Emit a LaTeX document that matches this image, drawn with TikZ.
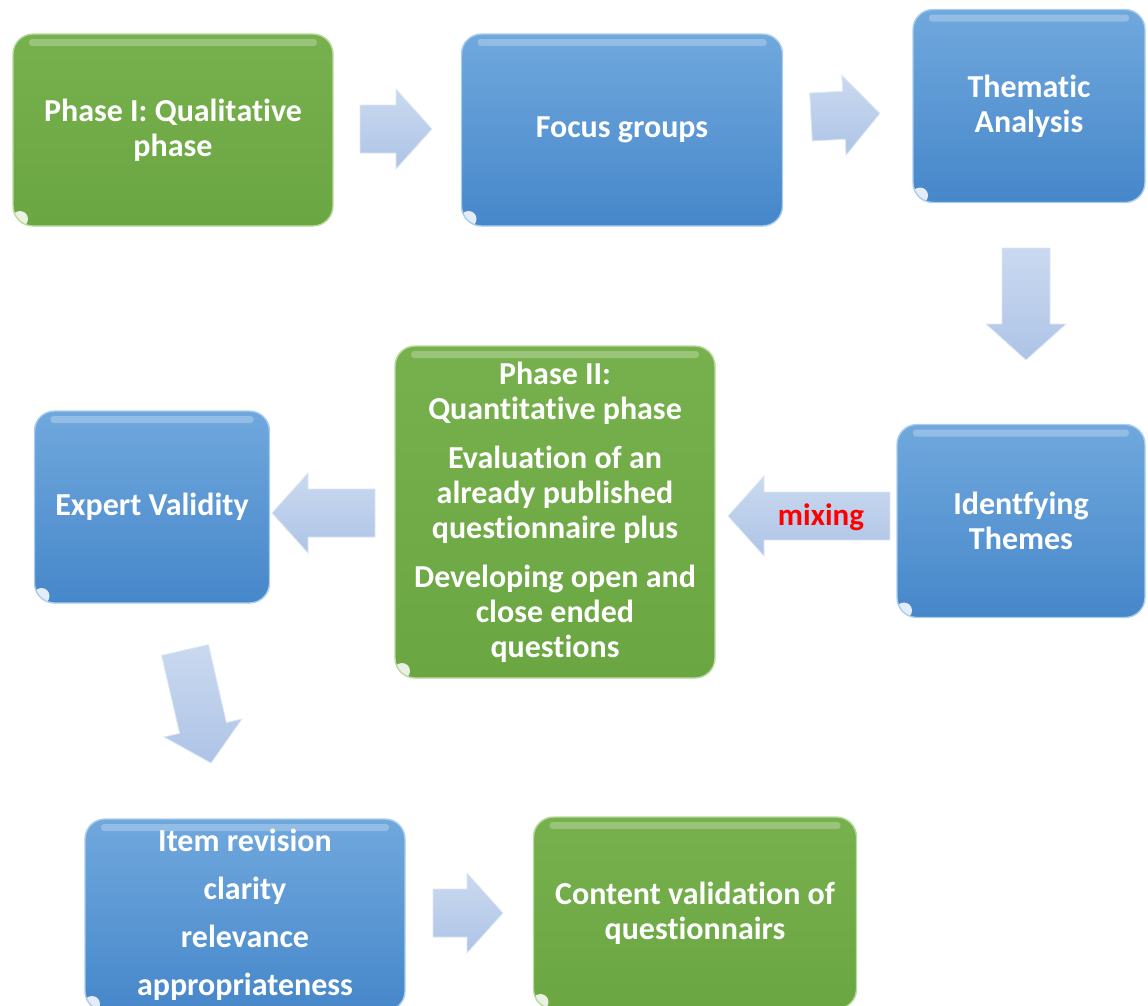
\documentclass[tikz,border=0pt]{standalone}
\usepackage{fontspec}
\setmainfont{Carlito}[Ligatures={NoCommon,NoContextual},Contextuals=NoAlternate]
\usetikzlibrary{calc}
% zero kern that keeps letter pairs such as "ti" from merging into one glyph
\newcommand{\nolig}{\kern0pt}

\definecolor{grnTop}{HTML}{77B14E}
\definecolor{grnBot}{HTML}{6AA642}
\definecolor{grnEdge}{HTML}{B9DBA1}
\definecolor{bluTop}{HTML}{70A8DD}
\definecolor{bluBot}{HTML}{4687CA}
\definecolor{bluEdge}{HTML}{AACDEC}
\definecolor{arrTop}{HTML}{CAD9EF}
\definecolor{arrBot}{HTML}{AEC4E6}
\definecolor{arrEdge}{HTML}{DDE7F6}
\definecolor{mixred}{HTML}{FF0000}

\tikzset{
  x=1pt, y=1pt,
  gloss/.style={path picture={
    \fill[white, opacity=0.25, rounded corners=3pt]
      ([xshift=16pt, yshift=-5pt]path picture bounding box.north west) rectangle
      ([xshift=-16pt, yshift=-12pt]path picture bounding box.north east);
    \fill[white, opacity=0.85]
      ([xshift=7pt, yshift=7pt]path picture bounding box.south west) circle (8pt);
  }},
  card/.style 2 args={rounded corners=20pt, line width=1.4pt, text=white,
    align=center, inner sep=0pt, minimum width=#1, minimum height=#2,
    font=\bfseries\fontsize{32}{35}\selectfont, gloss},
  greencard/.style 2 args={card={#1}{#2}, top color=grnTop, bottom color=grnBot, draw=grnEdge},
  bluecard/.style 2 args={card={#1}{#2}, top color=bluTop, bottom color=bluBot, draw=bluEdge},
  arrowbody/.style={top color=arrTop, bottom color=arrBot, draw=arrEdge, line width=0.8pt},
  pics/blockarr/.style={code={
    \coordinate (-tail) at (0,0);
    \coordinate (-tip) at (#1,0);
    \path[arrowbody] (0,-24) -- (#1-36,-24) -- (#1-36,-40) -- (#1,0)
      -- (#1-36,40) -- (#1-36,24) -- (0,24) -- cycle;
  }},
}

\begin{document}
\begin{tikzpicture}
\useasboundingbox (0,0) rectangle (1148,-1005);

% process boxes
\node[greencard={320pt}{192pt}] (p1) at (173,-130) {Phase I: Qualit\nolig at\nolig ive\\phase};
\node[bluecard={321pt}{192pt}] (fg) at (622,-130) {Focus groups};
\node[bluecard={232pt}{193pt}] (ta) at (1029,-106) {Themat\nolig ic\\Analysis};
\node[bluecard={248pt}{193pt}] (it) at (1021,-521) {Ident\nolig fying\\Themes};
\node[greencard={320pt}{332pt}] (p2) at (555,-512)
  {Phase II:\\Quant\nolig it\nolig at\nolig ive phase\\[14pt]Evaluat\nolig ion of an\\already published\\questionnaire plus\\[14pt]Developing open and\\close ended\\quest\nolig ions};
\node[bluecard={235pt}{192pt}] (ev) at (152,-507) {Expert Validity};
\node[bluecard={320pt}{192pt}] (ir) at (245,-915)
  {Item revision\\[13pt]clarity\\[13pt]relevance\\[13pt]appropriateness};
\node[greencard={323pt}{192pt}] (cv) at (695,-913) {Content validat\nolig ion of\\questionnairs};

% block arrows between the steps
\pic (a1) at (360,-129) {blockarr=72};
\pic[rotate=3] (a2) at (811,-117) {blockarr=69};
\pic[rotate=-90] (a3) at (1026,-248) {blockarr=112};
\pic[rotate=180] (a4) at (890,-516) {blockarr=162};
\pic[rotate=180] (a5) at (375,-513) {blockarr=103};
\pic[rotate=-77] (a6) at (185,-650) {blockarr=116};
\pic (a7) at (433,-913) {blockarr=70};

\node[text=mixred, font=\bfseries\fontsize{31}{35}\selectfont] (mix) at (821,-517) {mixing};
\end{tikzpicture}
\end{document}
